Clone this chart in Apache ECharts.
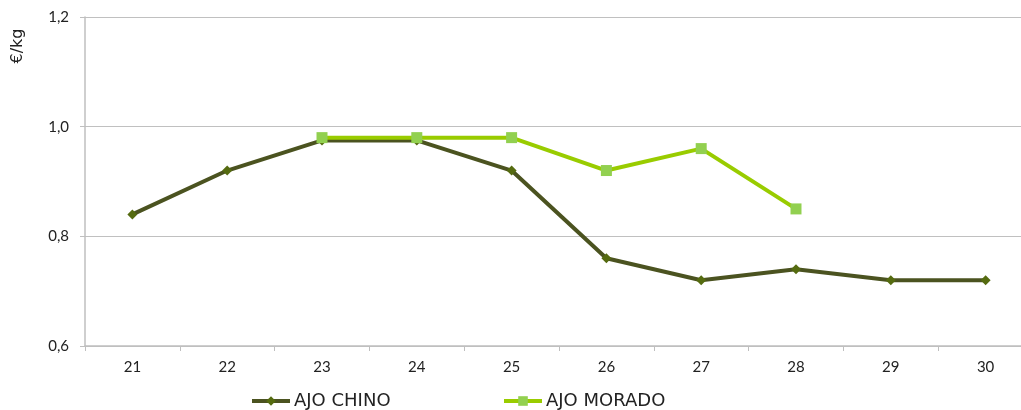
<!DOCTYPE html>
<html><head><meta charset="utf-8">
<script src="https://cdn.jsdelivr.net/npm/echarts@6/dist/echarts.min.js"></script>
<style>html,body{margin:0;padding:0;background:#fff}#c{width:1021px;height:410px}</style>
</head><body><div id="c"></div>
<script>
const categories = ['21','22','23','24','25','26','27','28','29','30'];
const ajoChino = [0.84, 0.92, 0.975, 0.975, 0.92, 0.76, 0.72, 0.74, 0.72, 0.72];
const ajoMorado = [null, null, 0.98, 0.98, 0.98, 0.92, 0.96, 0.85, null, null];
const seriesNames = ['AJO CHINO', 'AJO MORADO'];
const yTicks = { min: 0.6, max: 1.2, interval: 0.2 };

const font = 'Lato, "DejaVu Sans", sans-serif';
const legFont = '"DejaVu Sans", sans-serif';
const chart = echarts.init(document.getElementById('c'));
const legendCommon = {
  top: 392, itemWidth: 38, itemHeight: 12, itemGap: 5, padding: 0,
  textStyle: { fontFamily: legFont, fontSize: 18, color: '#222', padding: [0, 0, 0, -1] },
  lineStyle: { width: 4 }
};
chart.setOption({
  animation: false,
  grid: { left: 85, top: 17, width: 948, height: 329, containLabel: false, outerBoundsMode: 'none' },
  legend: [
    Object.assign({ left: 250, data: [seriesNames[0]] }, legendCommon),
    Object.assign({ left: 502, data: [seriesNames[1]] }, legendCommon)
  ],
  graphic: [{
    type: 'text', x: 18, y: 46, rotation: Math.PI / 2,
    style: { text: '€/kg', fontFamily: legFont, fontSize: 16, fill: '#222', align: 'center', verticalAlign: 'middle' }
  }],
  xAxis: {
    type: 'category', data: categories, boundaryGap: true,
    axisLine: { lineStyle: { color: '#bfbfbf', width: 1.5 } },
    axisTick: { show: true, length: 5, lineStyle: { color: '#bfbfbf' } },
    axisLabel: { fontFamily: font, fontSize: 15, color: '#222', margin: 14 }
  },
  yAxis: {
    type: 'value', min: yTicks.min, max: yTicks.max, interval: yTicks.interval,
    axisLine: { show: true, lineStyle: { color: '#bfbfbf', width: 1.5 } },
    axisTick: { show: true, length: 5, lineStyle: { color: '#bfbfbf' } },
    splitLine: { lineStyle: { color: '#c0c0c0', width: 1.2 } },
    axisLabel: { fontFamily: font, fontSize: 15, color: '#222', margin: 16,
      formatter: v => v.toFixed(1).replace('.', ',') }
  },
  series: [
    { name: seriesNames[0], type: 'line', data: ajoChino,
      symbol: 'diamond', symbolSize: 10, z: 2,
      lineStyle: { color: '#4b5320', width: 4 },
      itemStyle: { color: '#556b10' } },
    { name: seriesNames[1], type: 'line', data: ajoMorado,
      symbol: 'rect', symbolSize: 11, z: 3,
      lineStyle: { color: '#99cc00', width: 4 },
      itemStyle: { color: '#92d050' } }
  ]
});
</script></body></html>
